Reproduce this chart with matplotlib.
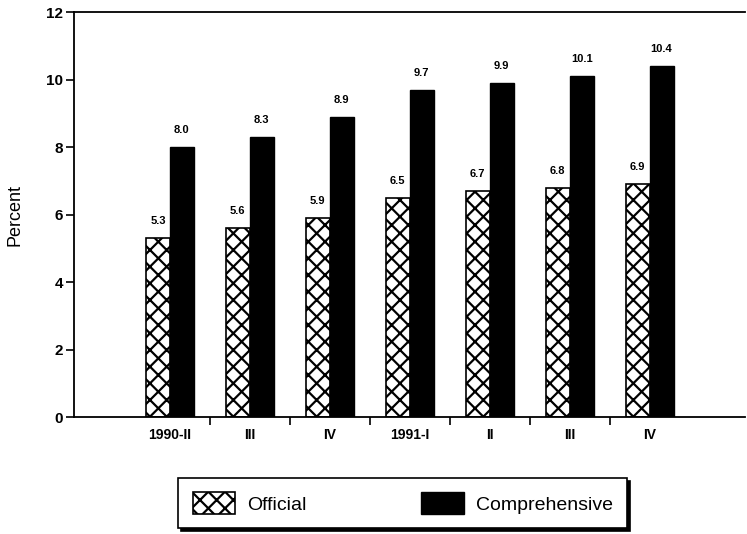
import matplotlib
matplotlib.use("Agg")
import matplotlib.pyplot as plt
import numpy as np
from matplotlib.patches import Patch

plt.rcParams['font.family'] = ['Liberation Sans', 'DejaVu Sans']
plt.rcParams['hatch.linewidth'] = 1.6

categories = ["1990-II", "III", "IV", "1991-I", "II", "III", "IV"]
official = [5.3, 5.6, 5.9, 6.5, 6.7, 6.8, 6.9]
comprehensive = [8.0, 8.3, 8.9, 9.7, 9.9, 10.1, 10.4]
official_labels = ["5.3", "5.6", "5.9", "6.5", "6.7", "6.8", "6.9"]
comp_labels = ["8.0", "8.3", "8.9", "9.7", "9.9", "10.1", "10.4"]

fig = plt.figure(figsize=(7.47, 5.34), dpi=100)
ax = fig.add_axes([0.099, 0.219, 0.898, 0.7585])

x = np.arange(len(categories))
w = 0.3
ax.bar(x - w / 2, official, width=w, facecolor='white', edgecolor='black',
       hatch='xx', linewidth=1.2, label='Official')
ax.bar(x + w / 2, comprehensive, width=w, facecolor='black', edgecolor='black',
       label='Comprehensive')

for xi, v, t in zip(x - w / 2, official, official_labels):
    ax.text(xi, v + 0.35, t, ha='center', va='bottom', fontsize=8, fontweight='bold')
for xi, v, t in zip(x + w / 2, comprehensive, comp_labels):
    ax.text(xi, v + 0.35, t, ha='center', va='bottom', fontsize=8, fontweight='bold')

ax.set_xlim(-1.2, 7.19)
ax.set_ylim(0, 12)
ax.set_yticks(np.arange(0, 13, 2))
ax.set_yticklabels([str(v) for v in range(0, 13, 2)], fontsize=11, fontweight='bold')

ax.set_xticks(x[:-1] + 0.5)
ax.set_xticklabels([])
ax.set_xticks(x, minor=True)
ax.set_xticklabels(categories, minor=True, fontsize=10, fontweight='bold')
ax.tick_params(axis='x', which='minor', length=0, pad=8)
ax.tick_params(axis='x', which='major', length=6, width=1.2, direction='out')
ax.tick_params(axis='y', length=6, width=1.2, direction='out', pad=2)

ax.spines['right'].set_visible(False)
for s in ['left', 'top', 'bottom']:
    ax.spines[s].set_linewidth(1.3)

ax.set_ylabel('Percent', fontsize=13, labelpad=16)

handles = [Patch(facecolor='white', edgecolor='black', hatch='xx', linewidth=1.2, label='Official'),
           Patch(facecolor='black', edgecolor='black', label='Comprehensive')]
leg = fig.legend(handles=handles, loc='center', bbox_to_anchor=(0.539, 0.058), ncol=2,
                 fontsize=14, frameon=True, fancybox=False, shadow={'color': 'black', 'alpha': 1},
                 handlelength=2.2, handleheight=1.3, columnspacing=5.9, handletextpad=0.6,
                 borderpad=0.75, edgecolor='black')
leg.get_frame().set_linewidth(1.2)

fig.savefig('out.png', dpi=100)
